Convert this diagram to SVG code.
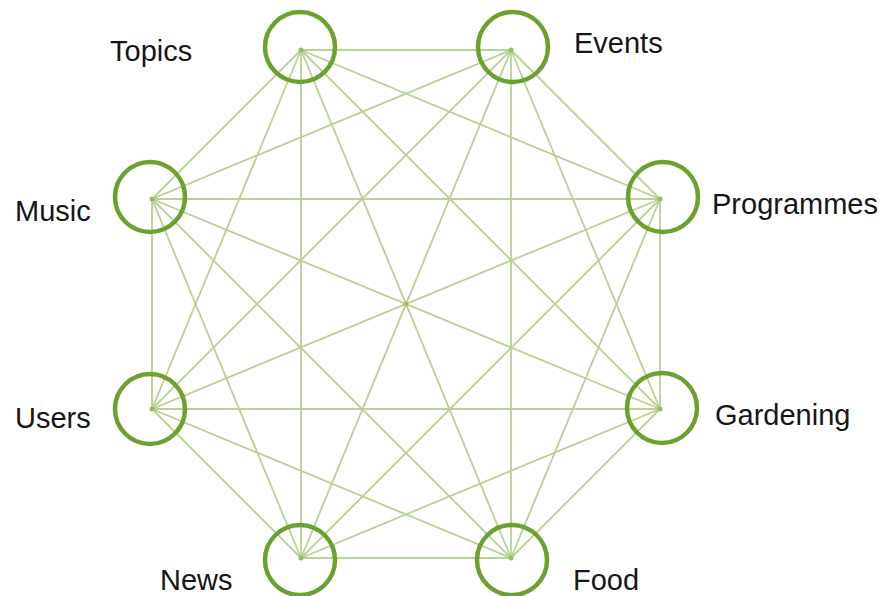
<svg xmlns="http://www.w3.org/2000/svg" width="890" height="596" viewBox="0 0 890 596">
<style>
.e{stroke:#b8d195;stroke-width:1.8;fill:none;stroke-linecap:round}
.ring{fill:none;stroke:#6aa12f;stroke-width:4.5}
.dot{fill:#93bb62}
.lbl{font-family:"Liberation Sans",Arial,sans-serif;font-size:29px;fill:#161616}
</style>
<rect width="890" height="596" fill="#ffffff"/>
<g id="connectors">
<line class="e" x1="301" y1="50" x2="511" y2="50"/>
<line class="e" x1="301" y1="50" x2="660" y2="199"/>
<line class="e" x1="301" y1="50" x2="660" y2="409"/>
<line class="e" x1="301" y1="50" x2="511" y2="558"/>
<line class="e" x1="301" y1="50" x2="301" y2="558"/>
<line class="e" x1="301" y1="50" x2="152" y2="409"/>
<line class="e" x1="301" y1="50" x2="152" y2="199"/>
<line class="e" x1="511" y1="50" x2="660" y2="199"/>
<line class="e" x1="511" y1="50" x2="660" y2="409"/>
<line class="e" x1="511" y1="50" x2="511" y2="558"/>
<line class="e" x1="511" y1="50" x2="301" y2="558"/>
<line class="e" x1="511" y1="50" x2="152" y2="409"/>
<line class="e" x1="511" y1="50" x2="152" y2="199"/>
<line class="e" x1="660" y1="199" x2="660" y2="409"/>
<line class="e" x1="660" y1="199" x2="511" y2="558"/>
<line class="e" x1="660" y1="199" x2="301" y2="558"/>
<line class="e" x1="660" y1="199" x2="152" y2="409"/>
<line class="e" x1="660" y1="199" x2="152" y2="199"/>
<line class="e" x1="660" y1="409" x2="511" y2="558"/>
<line class="e" x1="660" y1="409" x2="301" y2="558"/>
<line class="e" x1="660" y1="409" x2="152" y2="409"/>
<line class="e" x1="660" y1="409" x2="152" y2="199"/>
<line class="e" x1="511" y1="558" x2="301" y2="558"/>
<line class="e" x1="511" y1="558" x2="152" y2="409"/>
<line class="e" x1="511" y1="558" x2="152" y2="199"/>
<line class="e" x1="301" y1="558" x2="152" y2="409"/>
<line class="e" x1="301" y1="558" x2="152" y2="199"/>
<line class="e" x1="152" y1="409" x2="152" y2="199"/>
</g>
<g id="node-topics">
<circle class="dot" cx="301" cy="50" r="2.5"/>
<circle class="ring" cx="300" cy="47" r="35"/>
<text class="lbl" x="110" y="61">Topics</text>
</g>
<g id="node-events">
<circle class="dot" cx="511" cy="50" r="2.5"/>
<circle class="ring" cx="513" cy="47" r="35"/>
<text class="lbl" x="574" y="53">Events</text>
</g>
<g id="node-programmes">
<circle class="dot" cx="660" cy="199" r="2.5"/>
<circle class="ring" cx="663" cy="197" r="35"/>
<text class="lbl" x="712" y="214">Programmes</text>
</g>
<g id="node-gardening">
<circle class="dot" cx="660" cy="409" r="2.5"/>
<circle class="ring" cx="662" cy="408" r="35"/>
<text class="lbl" x="715" y="425">Gardening</text>
</g>
<g id="node-food">
<circle class="dot" cx="511" cy="558" r="2.5"/>
<circle class="ring" cx="512" cy="560" r="35"/>
<text class="lbl" x="573" y="590">Food</text>
</g>
<g id="node-news">
<circle class="dot" cx="301" cy="558" r="2.5"/>
<circle class="ring" cx="300" cy="560" r="35"/>
<text class="lbl" x="160" y="590">News</text>
</g>
<g id="node-users">
<circle class="dot" cx="152" cy="409" r="2.5"/>
<circle class="ring" cx="150" cy="409" r="35"/>
<text class="lbl" x="15" y="428">Users</text>
</g>
<g id="node-music">
<circle class="dot" cx="152" cy="199" r="2.5"/>
<circle class="ring" cx="150" cy="197" r="35"/>
<text class="lbl" x="15" y="221">Music</text>
</g>
<circle class="dot" cx="406" cy="304" r="2"/>
</svg>
